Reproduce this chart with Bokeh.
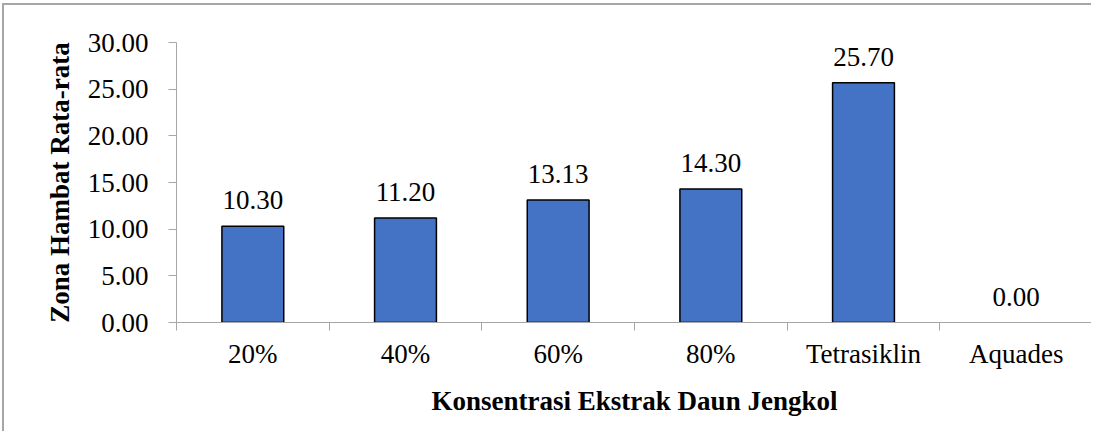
from bokeh.plotting import figure
from bokeh.models import Range1d, LinearAxis, FixedTicker, ColumnDataSource, NumeralTickFormatter
from bokeh.core.properties import value
from bokeh.embed import file_html
from bokeh.resources import INLINE

categories = ["20%", "40%", "60%", "80%", "Tetrasiklin", "Aquades"]
values = [10.30, 11.20, 13.13, 14.30, 25.70, 0.00]
y_ticks = [0, 5, 10, 15, 20, 25, 30]
x_title = "Konsentrasi Ekstrak Daun Jengkol"
y_title = "Zona Hambat Rata-rata"

FONT = "Liberation Serif"
GRAY = "#a6a6a6"
FS = "27px"

xs = [i + 0.5 for i in range(len(categories))]
src = ColumnDataSource(dict(x=xs, top=values, label=["%.2f" % v for v in values],
                            line_alpha=[0.0 if v == 0 else 1.0 for v in values]))

p = figure(width=1089, height=428, output_backend="svg", toolbar_location=None,
           x_range=Range1d(0, len(categories)), y_range=Range1d(0, 30),
           x_axis_type=None, y_axis_type=None,
           min_border_left=172, min_border_top=37, min_border_right=1, min_border_bottom=111)
p.styles = {"border-left": "2px solid #a6a6a6", "border-top": "2px solid #a6a6a6",
            "margin-left": "2px", "margin-top": "3px"}
p.outline_line_color = None
p.xgrid.visible = False
p.ygrid.visible = False

p.vbar(x="x", top="top", width=0.405, source=src, fill_color="#4472C4",
       line_color="#000000", line_width=1.5, line_alpha="line_alpha")
p.text(x="x", y="top", text="label", source=src, text_align="center",
       text_baseline="alphabetic", y_offset=-26, text_font=value(FONT),
       text_font_size=FS, text_color="#000000")

yax = LinearAxis(ticker=FixedTicker(ticks=y_ticks), formatter=NumeralTickFormatter(format="0.00"))
yax.axis_label = y_title
yax.axis_label_text_font = FONT
yax.axis_label_text_font_style = "bold"
yax.axis_label_text_font_size = FS
yax.axis_label_text_color = "#000000"
yax.axis_label_standoff = 10
yax.major_label_text_font = FONT
yax.major_label_text_font_size = FS
yax.major_label_text_color = "#000000"
yax.major_label_standoff = 20
yax.axis_line_color = GRAY
yax.major_tick_line_color = GRAY
yax.major_tick_out = 8
yax.major_tick_in = 0
yax.minor_tick_line_color = None
p.add_layout(yax, "left")

xax = LinearAxis(ticker=FixedTicker(ticks=xs, minor_ticks=list(range(len(categories) + 1))))
xax.major_label_overrides = {x: c for x, c in zip(xs, categories)}
xax.axis_label = x_title
xax.axis_label_text_font = FONT
xax.axis_label_text_font_style = "bold"
xax.axis_label_text_font_size = FS
xax.axis_label_text_color = "#000000"
xax.axis_label_standoff = 14
xax.major_label_text_font = FONT
xax.major_label_text_font_size = FS
xax.major_label_text_color = "#000000"
xax.major_label_standoff = 8
xax.axis_line_color = GRAY
xax.major_tick_line_color = None
xax.major_tick_out = 8
xax.major_tick_in = 0
xax.minor_tick_line_color = GRAY
xax.minor_tick_out = 8
xax.minor_tick_in = 0
p.add_layout(xax, "below")

open("out.html", "w").write(file_html(p, INLINE))
